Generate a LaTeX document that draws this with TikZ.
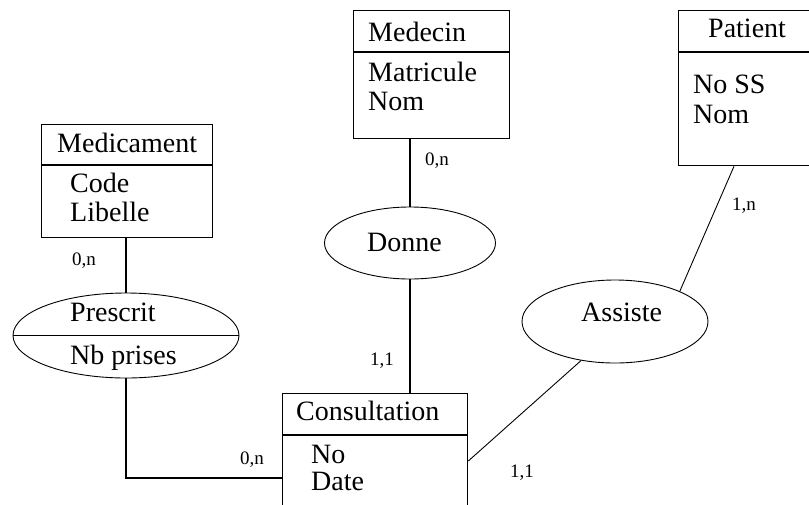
\documentclass[tikz,border=0pt]{standalone}
\usepackage{fontspec}
\setmainfont{Liberation Serif}
\usetikzlibrary{shapes.geometric,calc}
\begin{document}
\begin{tikzpicture}[x=1pt,y=-1pt,
  entity/.style={draw,line width=1.3pt,rectangle,inner sep=0pt,anchor=north west},
  assoc/.style={draw,line width=0.9pt,ellipse,inner sep=0pt},
  link/.style={line width=1.1pt},
  txt/.style={inner sep=0pt,anchor=base west,font=\fontsize{28}{30}\selectfont},
  card/.style={inner sep=0pt,anchor=base west,font=\fontsize{19}{21}\selectfont}]
\useasboundingbox (0,0) rectangle (809,504);
\clip (0,0) rectangle (809,504);

% entities
\node[entity,minimum width=171pt,minimum height=113pt] (medic) at (41,124) {};
\draw[line width=1.3pt] ([yshift=-41pt]medic.north west) -- ([yshift=-41pt]medic.north east);
\node[txt] (medicT) at (57,152.5) {Medicament};
\node[txt] (medicA) at (70,192.5) {Code};
\node[txt] (medicB) at (70,221.5) {Libelle};

\node[entity,minimum width=156pt,minimum height=128pt] (medec) at (353,10) {};
\draw[line width=1.3pt] ([yshift=-42pt]medec.north west) -- ([yshift=-42pt]medec.north east);
\node[txt] (medecT) at (368,41.5) {Medecin};
\node[txt] (medecA) at (368,81) {Matricule};
\node[txt] (medecB) at (368,110) {Nom};

\node[entity,minimum width=136pt,minimum height=155pt] (pat) at (678,10) {};
\draw[line width=1.3pt] ([yshift=-42pt]pat.north west) -- ([yshift=-42pt]pat.north east);
\node[txt] (patT) at (708,37.5) {Patient};
\node[txt] (patA) at (693,93.5) {No SS};
\node[txt] (patB) at (693,123) {Nom};

\node[entity,minimum width=185pt,minimum height=140pt] (cons) at (282,393) {};
\draw[line width=1.3pt] ([yshift=-42pt]cons.north west) -- ([yshift=-42pt]cons.north east);
\node[txt] (consT) at (296,420.5) {Consultation};
\node[txt] (consA) at (311,463.5) {No};
\node[txt] (consB) at (311,490) {Date};

% associations
\node[assoc,minimum width=226pt,minimum height=85pt] (presc) at (126,335.5) {};
\draw[line width=0.9pt] (presc.west) -- (presc.east);
\node[txt] (prescT) at (70,321.5) {Prescrit};
\node[txt] (prescA) at (70,364) {Nb prises};

\node[assoc,minimum width=171pt,minimum height=72pt] (donne) at (410,243) {};
\node[txt] (donneT) at (367,251.5) {Donne};

\node[assoc,minimum width=186pt,minimum height=83pt] (assis) at (615,321.5) {};
\node[txt] (assisT) at (581,321.5) {Assiste};

% links
\draw[link] (medic.south -| presc.north) -- (presc.north);
\draw[link] (presc.south) |- ($(cons.north west)+(0,85)$);
\draw[link] (donne.north) -- (donne.north |- medec.south);
\draw[link] (donne.south) -- (donne.south |- cons.north);
\draw[line width=0.9pt] (assis.25) -- ([xshift=56pt]pat.south west);
\draw[line width=0.9pt] (assis.229) -- ([yshift=-68pt]cons.north east);

% cardinalities
\node[card] (c1) at (72,265) {0,n};
\node[card] (c2) at (425,165.5) {0,n};
\node[card] (c3) at (370,365) {1,1};
\node[card] (c4) at (240,464) {0,n};
\node[card] (c5) at (510,477) {1,1};
\node[card] (c6) at (732,210) {1,n};
\end{tikzpicture}
\end{document}
